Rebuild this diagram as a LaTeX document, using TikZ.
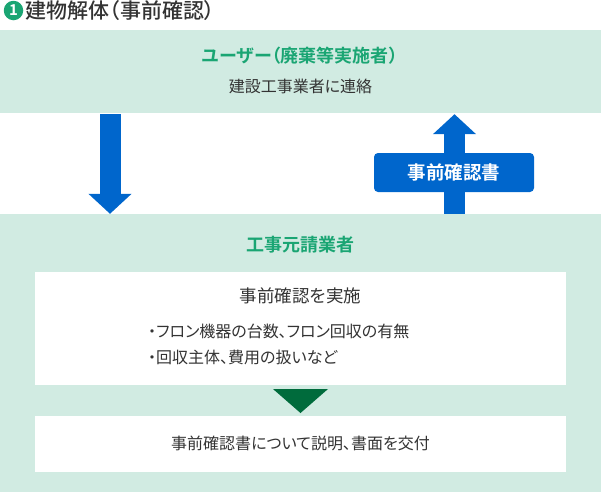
\documentclass[tikz,border=0pt]{standalone}
\usepackage{fontspec}
\setmainfont[RawFeature=+palt,BoldFont={Noto Sans CJK JP Bold}]{Noto Sans CJK JP}
\newfontfamily\jpmedium[RawFeature=+palt]{Noto Sans CJK JP Medium}
\usetikzlibrary{arrows.meta}
\definecolor{panelgreen}{HTML}{D1EBE2}
\definecolor{textgreen}{HTML}{1AA573}
\definecolor{darkgreen}{HTML}{006B3C}
\definecolor{arrowblue}{HTML}{0066CC}
\definecolor{inkgrey}{HTML}{333333}
\tikzset{
	panel/.style={fill=panelgreen, inner sep=0pt, minimum width=601pt},
	whitebox/.style={fill=white, inner sep=0pt, minimum width=531pt},
	heading/.style={text=textgreen, font=\fontsize{18}{20}\selectfont\bfseries, inner sep=0pt},
	body/.style={text=inkgrey, inner sep=0pt},
	bigarrow/.style={draw=arrowblue, line width=21pt, -{Triangle[length=20pt,width=42pt]}},
}
\begin{document}
\begin{tikzpicture}[x=1pt,y=-1pt]
			\useasboundingbox (0, 0) rectangle (601, 493);
			%%%%% PANELS %%%%%
			\node[panel, minimum height=83pt] (user) at (300.5, 71.5) {};
			\node[panel, minimum height=278pt] (contractor) at (300.5, 353) {};
			\node[whitebox, minimum height=113pt] (check) at (300.5, 328.5) {};
			\node[whitebox, minimum height=56pt] (explain) at (300.5, 444) {};
			
			%%%%% TITLE %%%%%
			\node[circle, fill=textgreen, text=white, minimum size=19.5pt, inner sep=0pt, font=\fontsize{15}{15}\selectfont\bfseries] (num) at (13.5, 10.5) {1};
			\node[body, anchor=west, font=\fontsize{21}{24}\jpmedium] (title) at (25.5, 10.5) {建物解体（事前確認）};
			
			%%%%% TEXTS %%%%%
			\node[heading] (userhead) at (300, 56) {ユーザー（廃棄等実施者）};
			\node[body, font=\fontsize{16}{20}\selectfont] (usertext) at (300.5, 86) {建設工事業者に連絡};
			\node[heading] (contractorhead) at (300, 245) {工事元請業者};
			\node[body, font=\fontsize{17.5}{20}\selectfont] (checkhead) at (300.5, 296) {事前確認を実施};
			\node[body, anchor=west, font=\fontsize{16}{20}\selectfont] (itemone) at (148, 331) {・フロン機器の台数、フロン回収の有無};
			\node[body, anchor=west, font=\fontsize{16}{20}\selectfont] (itemtwo) at (148, 357) {・回収主体、費用の扱いなど};
			\node[body, font=\fontsize{16}{20}\selectfont] (explaintext) at (300.5, 443) {事前確認書について説明、書面を交付};
			
			%%%%% ARROWS %%%%%
			\coordinate (downx) at (110, 0);
			\coordinate (upx) at (454.5, 0);
			\draw[bigarrow, shorten <=1pt] (user.south -| downx) -- (contractor.north -| downx);
			\draw[bigarrow, shorten >=1pt] (contractor.north -| upx) -- (user.south -| upx);
			\node[fill=arrowblue, text=white, rounded corners=4pt, minimum width=160pt, minimum height=39pt, inner sep=0pt, font=\fontsize{18.5}{20}\selectfont\bfseries] (doc) at (454, 172.5) {事前確認書};
			
			\coordinate (tipa) at (273, 389);
			\coordinate (tipb) at (328, 389);
			\coordinate (tipc) at (300.5, 413);
			\fill[darkgreen] (tipa) -- (tipb) -- (tipc) -- cycle;
		\end{tikzpicture}
\end{document}
